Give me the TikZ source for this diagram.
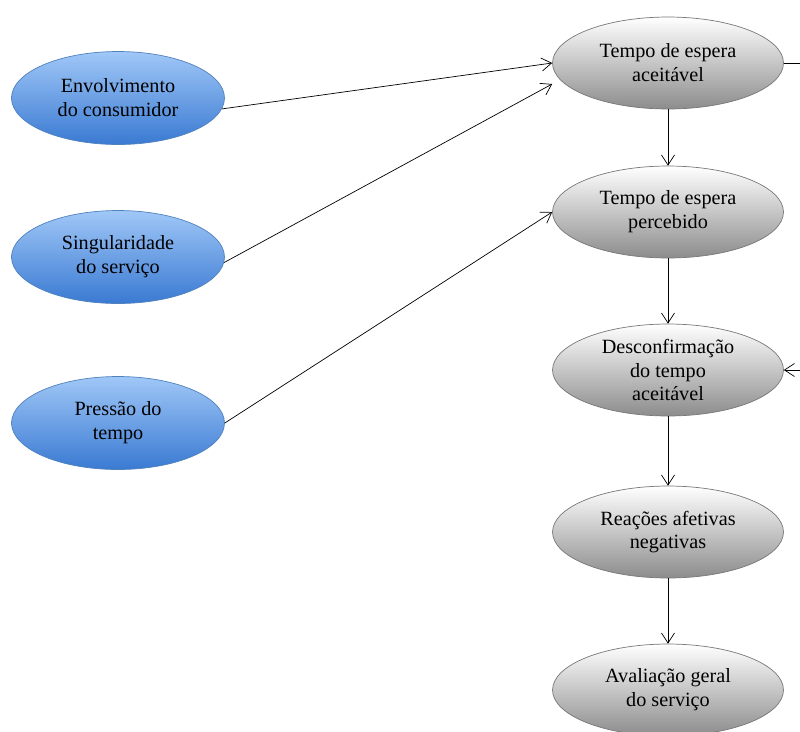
\documentclass[tikz,border=0pt]{standalone}
\usepackage{fontspec}
\setmainfont{Liberation Serif}
\usepackage{tikz}
\usetikzlibrary{
	arrows.meta, shapes.geometric, positioning, calc
}
\definecolor{espblue}       {RGB}{160, 199,  247}
\definecolor{espbluedark}   {RGB}{ 58, 122,  210}
\definecolor{espblueline}   {RGB}{ 79, 129,  189}
\definecolor{espgray}       {RGB}{140, 140,  140}
\definecolor{espgrayline}   {RGB}{120, 120,  120}

\begin{document}
\begin{tikzpicture}[x=0.02cm,y=-0.02cm,
		every node/.style={font=\fontsize{11.5}{13.6}\selectfont, align=center},
		antecedente/.style={ellipse, draw=espblueline, top color=espblue, bottom color=espbluedark,
			minimum width=4.26cm, minimum height=1.86cm, inner sep=0pt},
		etapa/.style={ellipse, draw=espgrayline, top color=white, bottom color=espgray,
			minimum width=4.62cm, minimum height=1.84cm, inner sep=0pt},
		seta/.style={-{Straight Barb[length=2mm,width=2.6mm]}, thin}
	]
				\useasboundingbox (0,0) rectangle (800,731);
				% antecedentes
				\node[antecedente] (env) at (118,98) {Envolvimento\\do consumidor};
				\node[antecedente] (sing) at (118,257) {Singularidade\\do serviço};
				\node[antecedente] (press) at (118,423) {Pressão do\\tempo};
				% cadeia principal
				\node[etapa] (tea) at (668,63) {Tempo de espera\\aceitável};
				\node[etapa] (tep) at (668,212) {Tempo de espera\\percebido};
				\node[etapa] (desc) at (668,370) {Desconfirmação\\do tempo\\aceitável};
				\node[etapa] (reac) at (668,532) {Reações afetivas\\negativas};
				\node[etapa] (aval) at (668,690) {Avaliação geral\\do serviço};
				\draw[seta] (env.-6) -- (tea.west);
				\draw[seta] (sing.-3) -- ($(tea.west)+(0,21)$);
				\draw[seta] (press.east) -- (tep.west);
				\foreach \a/\b in {tea/tep, tep/desc, desc/reac, reac/aval}{\draw[seta] (\a) -- (\b);}
				% retorno pela direita
				\coordinate (retA) at (812,63);
				\coordinate (retB) at (812,370);
				\draw[seta] (tea.east) -- (retA) -- (retB) -- (desc.east);
			\end{tikzpicture}
\end{document}
